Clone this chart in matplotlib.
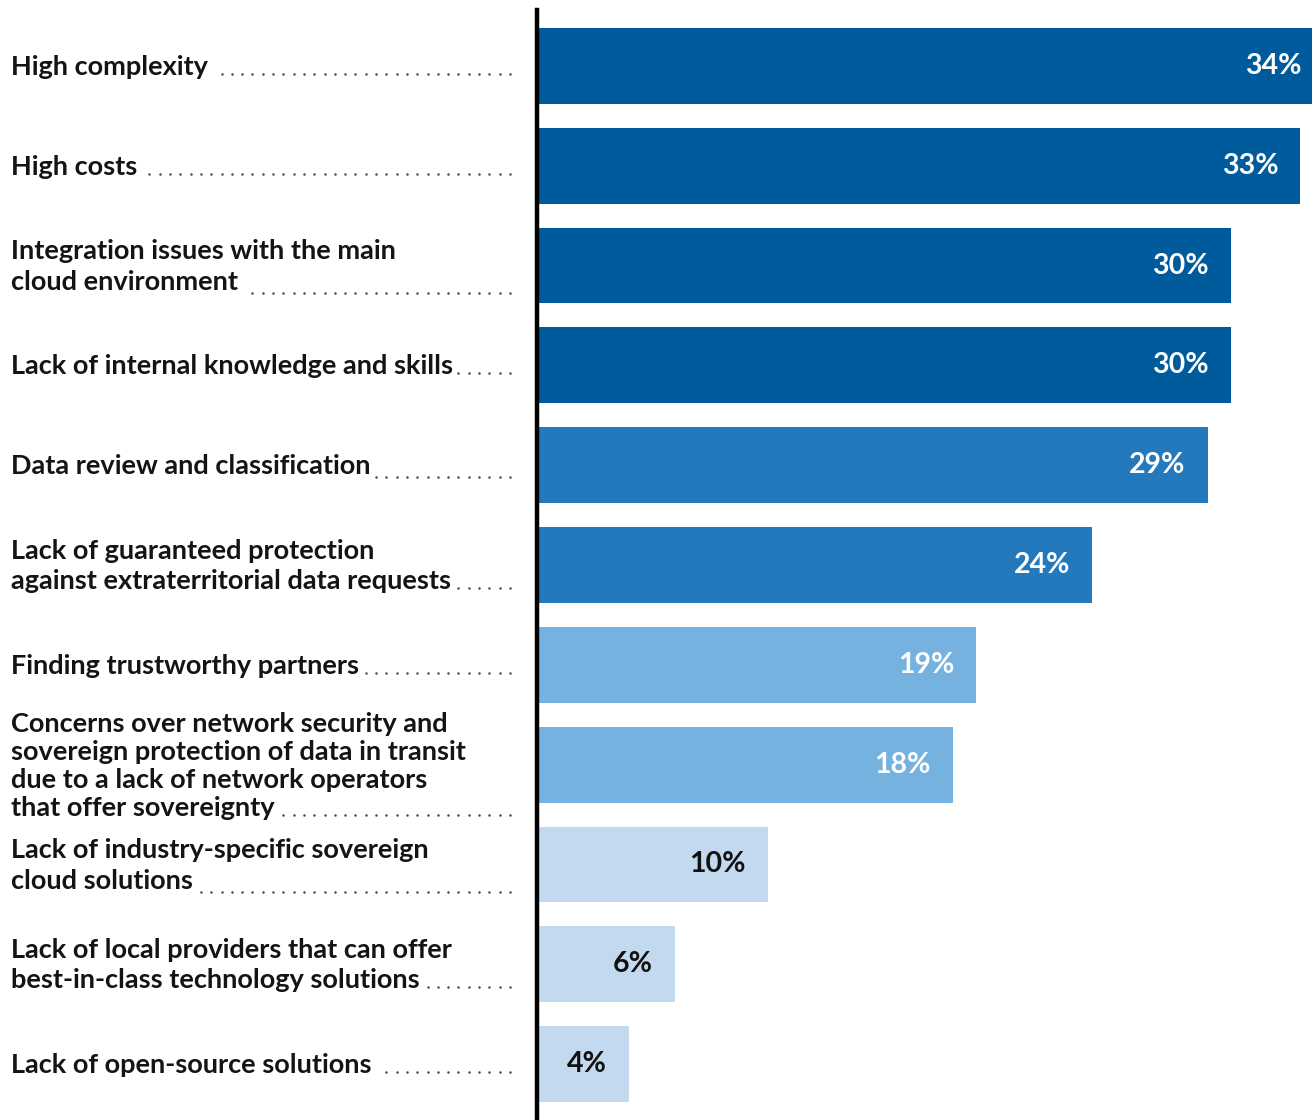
import numpy as np
import matplotlib
matplotlib.use("Agg")
import matplotlib.pyplot as plt
from matplotlib.lines import Line2D

plt.rcParams['font.family'] = ['Lato', 'DejaVu Sans']

# ========== Data ==========
labels = [
    "High complexity",
    "High costs",
    "Integration issues with the main\ncloud environment",
    "Lack of internal knowledge and skills",
    "Data review and classification",
    "Lack of guaranteed protection\nagainst extraterritorial data requests",
    "Finding trustworthy partners",
    "Concerns over network security and\nsovereign protection of data in transit\ndue to a lack of network operators\nthat offer sovereignty",
    "Lack of industry-specific sovereign\ncloud solutions",
    "Lack of local providers that can offer\nbest-in-class technology solutions",
    "Lack of open-source solutions",
]
values = [34, 33, 30, 30, 29, 24, 19, 18, 10, 6, 4]
shade = [0, 0, 0, 0, 1, 1, 2, 2, 3, 3, 3]  # colour group per bar

palette = ["#005b9c", "#2479bd", "#75b2e0", "#c2d9ef"]
text_col = ["white", "white", "white", "#111111"]

W, H = 1312, 1120
fig = plt.figure(figsize=(W / 100, H / 100), dpi=100)
ax = fig.add_axes([536.5 / W, 0, 1 - 536.5 / W, (H - 10) / H])

y = np.arange(len(values))
ax.barh(y, values, height=0.76, color=[palette[s] for s in shade], zorder=1)
ax.set_xlim(0, (W - 536.5) / 23.15)
ax.set_ylim(len(values) - 0.44, -0.56)

for sp in ["top", "right", "bottom"]:
    ax.spines[sp].set_visible(False)
ax.spines["left"].set_linewidth(3.2)
ax.spines["left"].set_color("black")
ax.spines["left"].set_zorder(3)
ax.set_xticks([])
ax.set_yticks([])

# value labels inside bars
for yi, v, s in zip(y, values, shade):
    ax.annotate(f"{v}%", xy=(v, yi), xytext=(-16, 0), textcoords="offset points",
                ha="right", va="center", fontsize=20.5, fontweight="bold",
                color=text_col[s], annotation_clip=False)

# category labels with dotted leaders
fig.canvas.draw()
renderer = fig.canvas.get_renderer()
leader_end = 510
for yi, lab in zip(y, labels):
    n_lines = lab.count("\n") + 1
    ls = 1.2 if n_lines > 2 else 1.32
    _, yc = ax.transData.transform((0, yi))
    t = fig.text(11 / W, (yc - 1) / H, lab, ha="left", va="center", fontsize=19.5,
                 fontweight="bold", color="#141414", linespacing=ls)
    bb = t.get_window_extent(renderer)
    last = lab.split("\n")[-1]
    w, h, d = renderer.get_text_width_height_descent(last, t.get_fontproperties(), ismath=False)
    x0 = bb.x0 + w + 5
    base = bb.y0 + d
    xs = np.arange(leader_end, x0, -10.3)
    fig.add_artist(Line2D(xs / W, np.full(len(xs), base + 1) / H, linestyle="none",
                          marker="o", markersize=1.8, markeredgewidth=0,
                          color="#4a4a4a", transform=fig.transFigure))

fig.savefig("out.png", dpi=100)
